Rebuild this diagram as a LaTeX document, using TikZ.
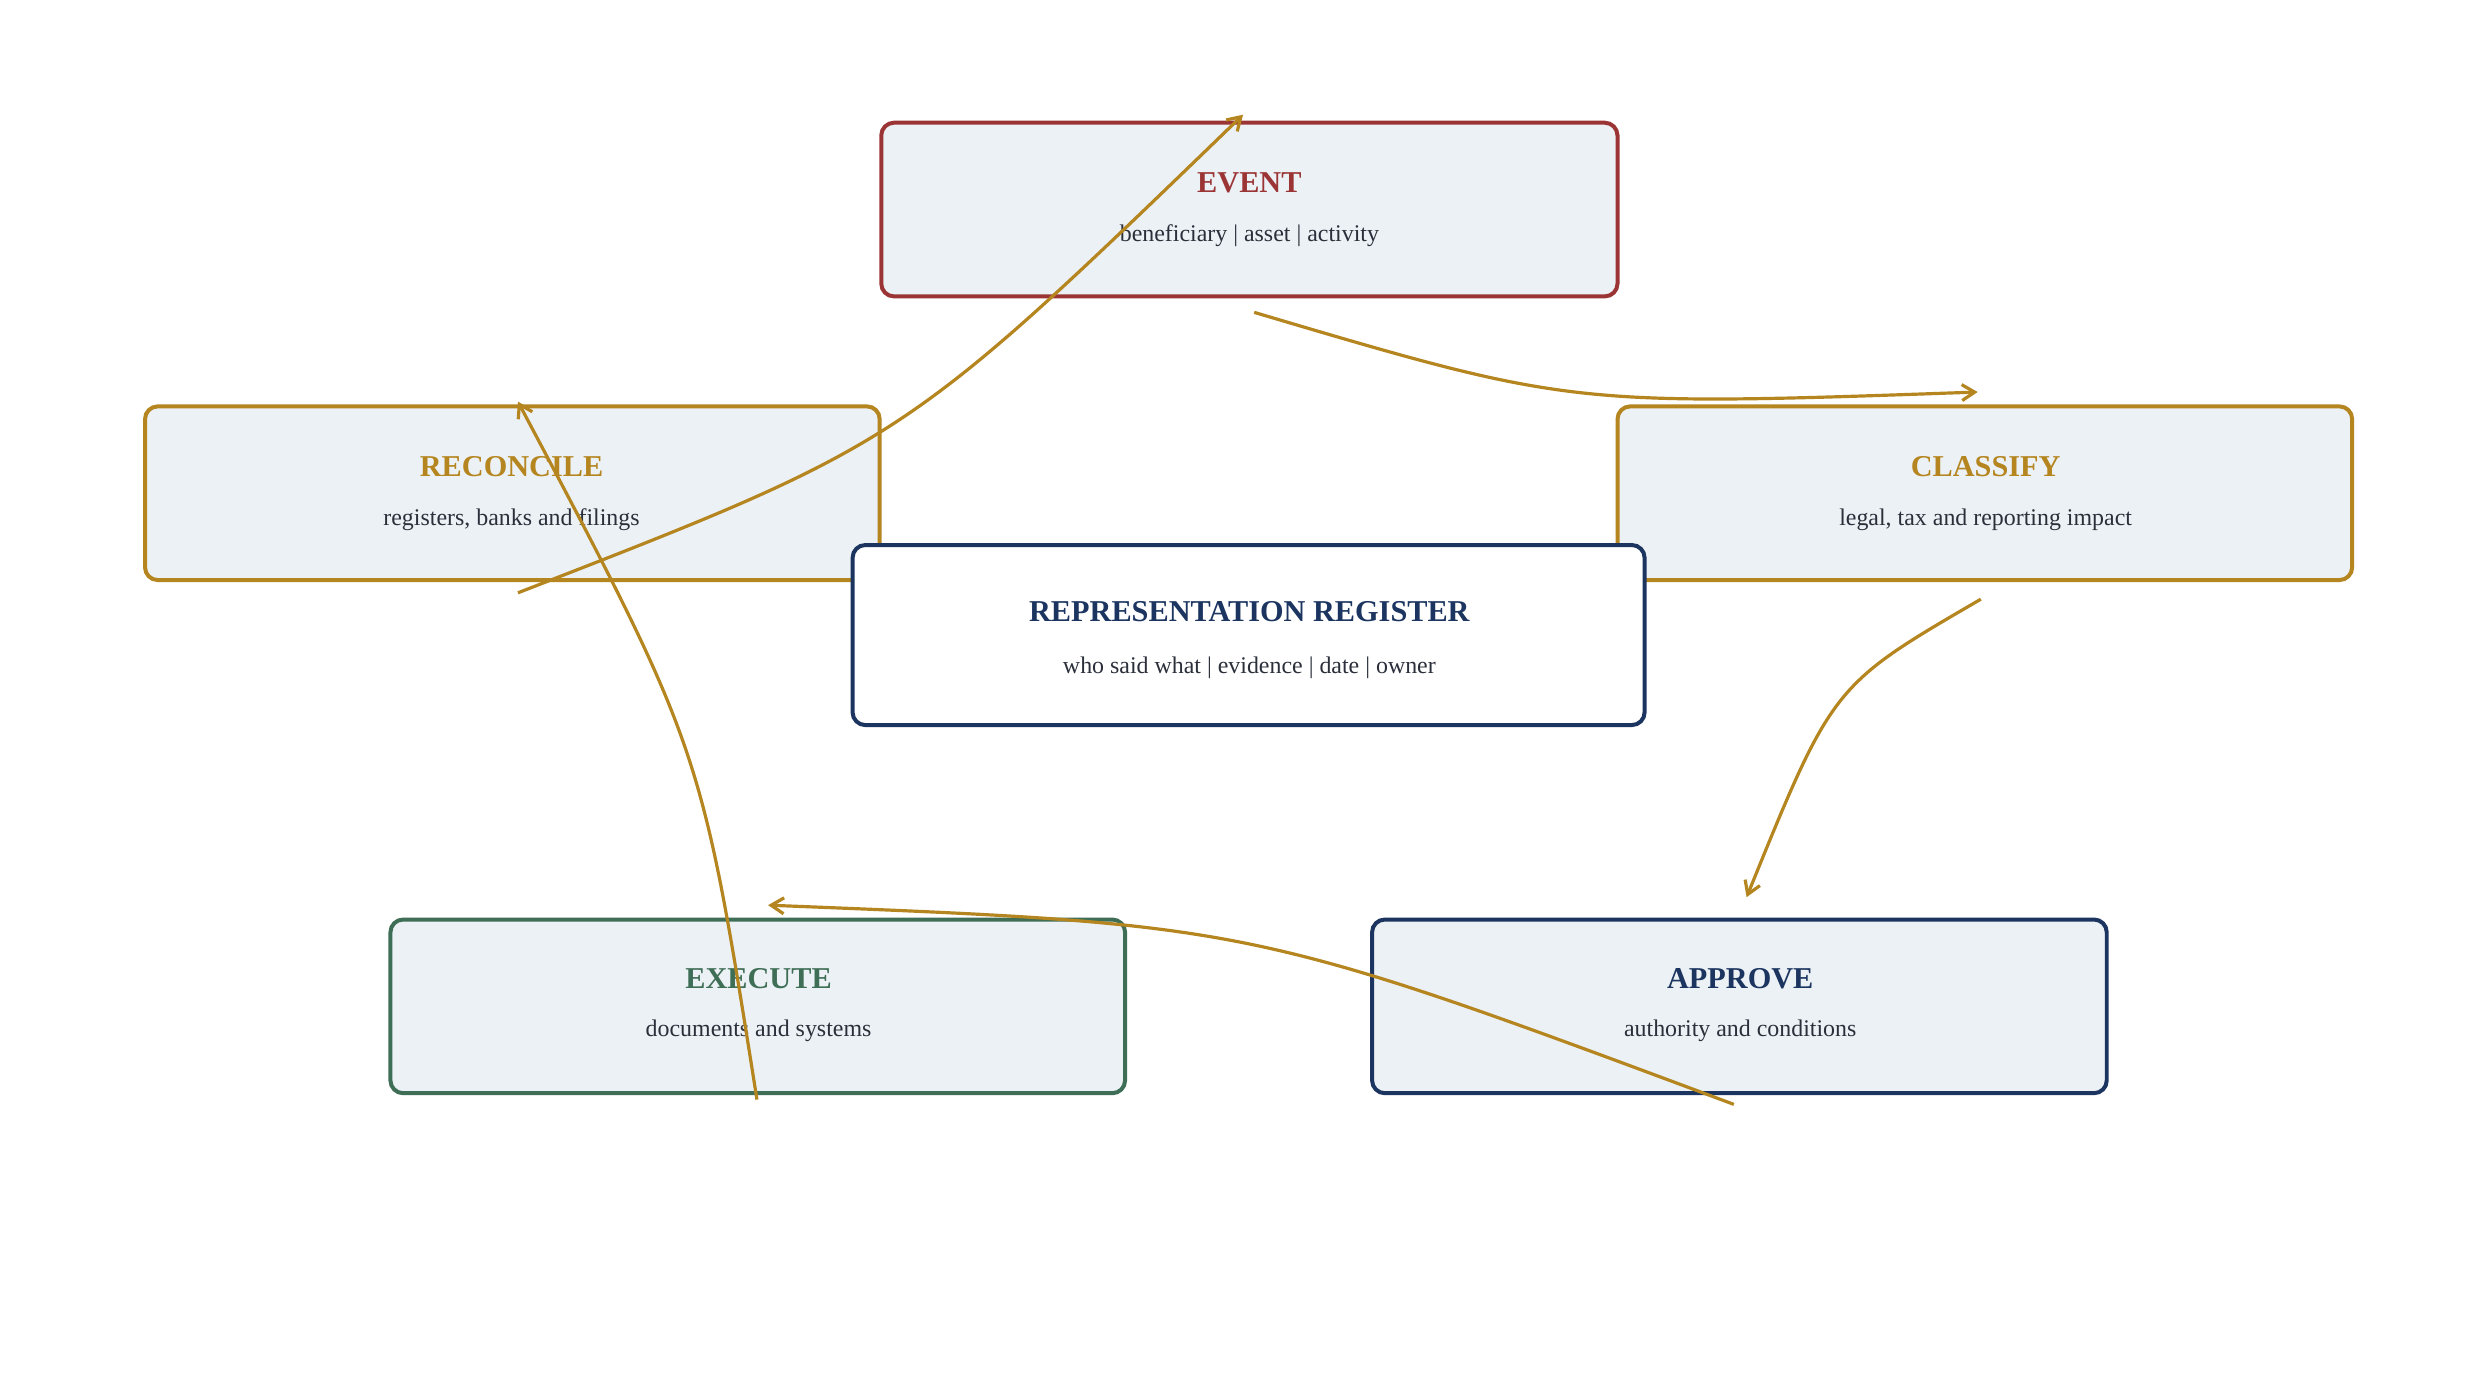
\documentclass[tikz,border=0pt]{standalone}
\usepackage{fontspec}
\setmainfont{Liberation Serif}
\usetikzlibrary{arrows.meta}
\definecolor{cred}{HTML}{9B3535}
\definecolor{cgold}{HTML}{B5851F}
\definecolor{cnavy}{HTML}{1B3560}
\definecolor{cgreen}{HTML}{3F6E57}
\definecolor{cfill}{HTML}{ECF1F5}
\definecolor{ctext}{HTML}{2A2F3A}
\begin{document}
\begin{tikzpicture}[x=1pt,y=-1pt,
 box/.style={draw=#1,line width=2.5pt,rounded corners=8pt,fill=cfill},
 ttl/.style={font=\bfseries\fontsize{19}{22}\selectfont,text=#1},
 sub/.style={font=\fontsize{15}{18}\selectfont,text=ctext},
 arr/.style={draw=cgold,line width=2pt,-{Straight Barb[length=8pt,width=10pt]}}]
\useasboundingbox (0,0) rectangle (1560,870);
\fill[white] (0,0) rectangle (1560,870);
% boxes
\draw[box=cred] (553,77) rectangle (1015,186);
\node[ttl=cred] (evt) at (784,115) {EVENT};
\node[sub] (evts) at (784,148) {beneficiary | asset | activity};
\draw[box=cgold] (91,255) rectangle (552,364);
\node[ttl=cgold] (rec) at (321,293) {RECONCILE};
\node[sub] (recs) at (321,326) {registers, banks and filings};
\draw[box=cgold] (1015,255) rectangle (1476,364);
\node[ttl=cgold] (cla) at (1246,293) {CLASSIFY};
\node[sub] (clas) at (1246,326) {legal, tax and reporting impact};
\draw[box=cnavy,fill=white] (535,342) rectangle (1032,455);
\node[ttl=cnavy] (reg) at (784,384) {REPRESENTATION REGISTER};
\node[sub] (regs) at (784,419) {who said what | evidence | date | owner};
\draw[box=cgreen] (245,577) rectangle (706,686);
\node[ttl=cgreen] (exe) at (476,614) {EXECUTE};
\node[sub] (exes) at (476,647) {documents and systems};
\draw[box=cnavy] (861,577) rectangle (1322,686);
\node[ttl=cnavy] (app) at (1092,614) {APPROVE};
\node[sub] (apps) at (1092,647) {authority and conditions};
% connector endpoints
\coordinate (e1) at (787,196); \coordinate (c1) at (1241,246);
\coordinate (c2) at (1243,376); \coordinate (a2) at (1096,563);
\coordinate (a3) at (1088,693); \coordinate (x3) at (482,568);
\coordinate (x4) at (475,690); \coordinate (r4) at (325,252);
\coordinate (r5) at (325,372); \coordinate (e5) at (780,72);
\draw[arr] (e1) .. controls (986,255) .. (c1);
\draw[arr] (c2) .. controls (1150,430) .. (a2);
\draw[arr] (a3) .. controls (785,580) .. (x3);
\draw[arr] (x4) .. controls (440,469) .. (r4);
\draw[arr] (r5) .. controls (567,278) .. (e5);
\end{tikzpicture}
\end{document}
